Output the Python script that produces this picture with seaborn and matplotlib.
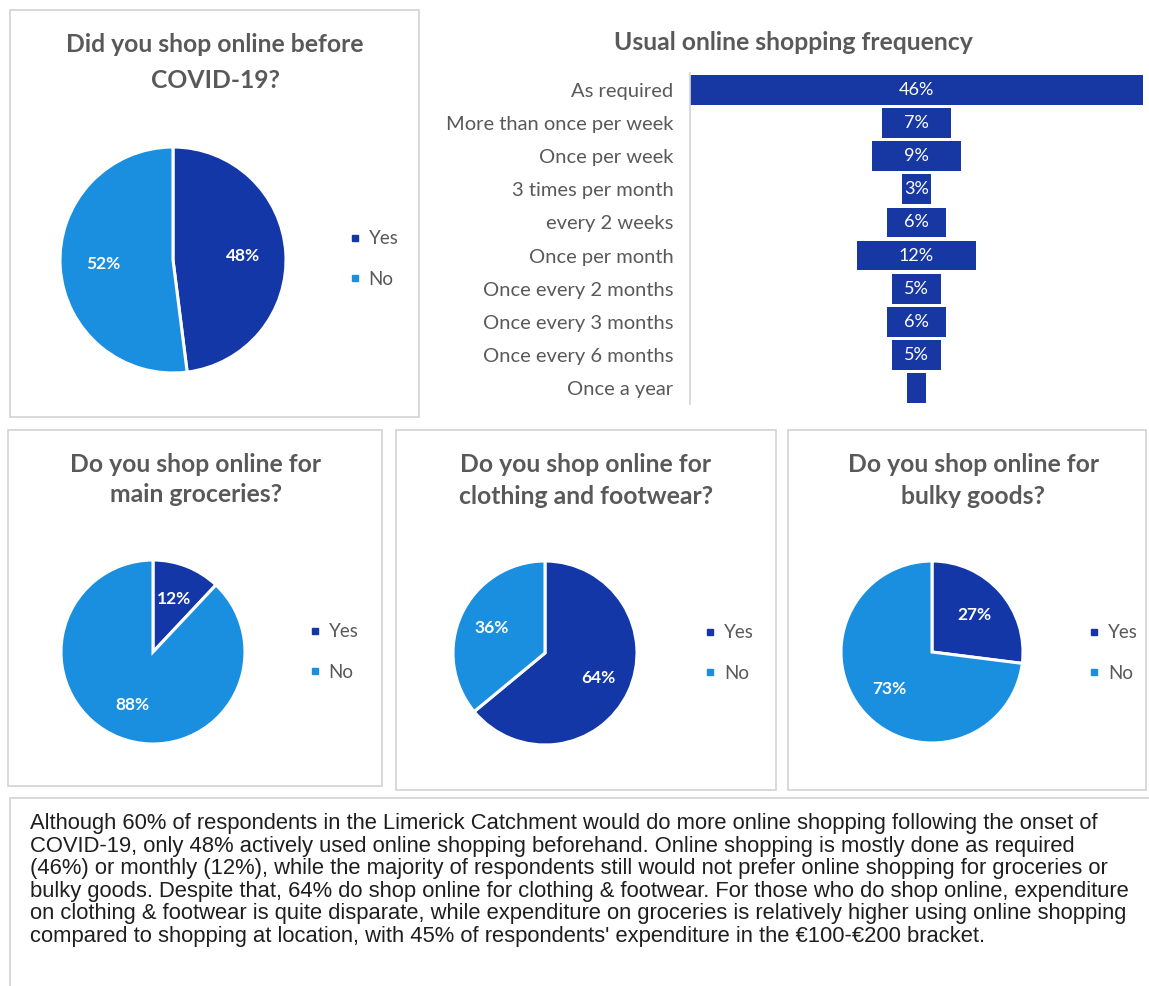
import numpy as np
import pandas as pd
import matplotlib
matplotlib.use("Agg")
import matplotlib.pyplot as plt
import seaborn as sns
from matplotlib.patches import Rectangle
from matplotlib.lines import Line2D

sns.set_theme(style="white")
plt.rcParams['font.family'] = ['Lato', 'DejaVu Sans']

# ---------------- data ----------------
pie_labels = ["Yes", "No"]
before_covid = [48, 52]
groceries = [12, 88]
clothing = [64, 36]
bulky = [27, 73]

freq_categories = ["As required", "More than once per week", "Once per week",
                   "3 times per month", "every 2 weeks", "Once per month",
                   "Once every 2 months", "Once every 3 months",
                   "Once every 6 months", "Once a year"]
freq_values = [46, 7, 9, 3, 6, 12, 5, 6, 5, 2]
freq_value_labels = ["46%", "7%", "9%", "3%", "6%", "12%", "5%", "6%", "5%", ""]

paragraph_lines = [
    "Although 60% of respondents in the Limerick Catchment would do more online shopping following the onset of",
    "COVID-19, only 48% actively used online shopping beforehand. Online shopping is mostly done as required",
    "(46%) or monthly (12%), while the majority of respondents still would not prefer online shopping for groceries or",
    "bulky goods. Despite that, 64% do shop online for clothing & footwear. For those who do shop online, expenditure",
    "on clothing & footwear is quite disparate, while expenditure on groceries is relatively higher using online shopping",
    "compared to shopping at location, with 45% of respondents' expenditure in the \u20ac100-\u20ac200 bracket.",
]

# ---------------- style ----------------
W, H = 1149, 986
DARK = "#1437a8"
LIGHT = "#1a8fe0"
BAR = "#1738a3"
GRAY = "#595959"
BORDER = "#d6d6d6"
TITLE_SIZE = 17.8

fig = plt.figure(figsize=(W / 100, H / 100), dpi=100)
fig.patch.set_facecolor("white")


def px_axes(left, top, width, height):
    return fig.add_axes([left / W, 1 - (top + height) / H, width / W, height / H])


def box(l, t, r, b):
    fig.add_artist(Rectangle((l / W, 1 - b / H), (r - l) / W, (b - t) / H,
                             transform=fig.transFigure, fill=False,
                             edgecolor=BORDER, lw=1.3))


def ftext(x, y, s, **kw):
    fig.text(x / W, 1 - y / H, s, **kw)


def draw_pie(values, cx, cy, r, title_lines, tx, tys, lx, lcy, pctdist):
    pad = 1.03
    ax = px_axes(cx - r * pad, cy - r * pad, 2 * r * pad, 2 * r * pad)
    ax.pie(values, colors=[DARK, LIGHT], startangle=90, counterclock=False,
           autopct=lambda p: f"{p:.0f}%", pctdistance=pctdist,
           wedgeprops=dict(edgecolor="white", linewidth=2.2),
           textprops=dict(color="white", fontsize=12.5, fontweight="bold"))
    ax.set_xlim(-pad, pad)
    ax.set_ylim(-pad, pad)
    ax.set_aspect("equal")
    ax.axis("off")
    for line, ty in zip(title_lines, tys):
        ftext(tx, ty, line, ha="center", va="center", fontsize=TITLE_SIZE,
              fontweight="bold", color=GRAY)
    handles = [Line2D([], [], marker="s", ls="", color=c, markersize=5)
               for c in (DARK, LIGHT)]
    fig.legend(handles, pie_labels, loc="center left",
               bbox_to_anchor=(lx / W, 1 - lcy / H), frameon=False,
               fontsize=13.5, labelcolor=GRAY, handlelength=0.5,
               handletextpad=0.5, labelspacing=1.25, borderpad=0,
               borderaxespad=0)


# panel borders
box(10, 10, 419, 417)
box(8, 430, 382, 786)
box(396, 430, 776, 790)
box(788, 430, 1146, 790)
box(10, 798, 1160, 1000)

# pies
draw_pie(before_covid, 173, 260, 113, ["Did you shop online before", "COVID-19?"],
         215, [45, 80], 350, 259, 0.62)
draw_pie(groceries, 153, 652, 92, ["Do you shop online for", "main groceries?"],
         196, [465, 495], 310, 652, 0.62)
draw_pie(clothing, 545, 653, 92, ["Do you shop online for", "clothing and footwear?"],
         586, [465, 496], 705, 653, 0.64)
draw_pie(bulky, 932, 652, 91, ["Do you shop online for", "bulky goods?"],
         973, [465, 496], 1089, 653, 0.62)

# funnel bar chart
freq_df = pd.DataFrame({"category": freq_categories, "value": freq_values})
freq_df["right"] = freq_df["value"] / 2
freq_df["left"] = -freq_df["value"] / 2
axb = px_axes(690, 73.5, 453, 331)
for col in ("right", "left"):
    sns.barplot(data=freq_df, x=col, y="category", order=freq_categories,
                orient="h", color=BAR, saturation=1, width=0.9,
                errorbar=None, linewidth=0, ax=axb)
axb.set_xlim(-max(freq_values) / 2, max(freq_values) / 2)
axb.set(xlabel="", ylabel="", xticks=[])
axb.tick_params(axis="y", length=0, pad=12, labelsize=14.5, labelcolor=GRAY)
for s in ("top", "right", "bottom"):
    axb.spines[s].set_visible(False)
axb.spines["left"].set_color(BORDER)
for i, lab in enumerate(freq_value_labels):
    axb.text(0, i, lab, ha="center", va="center", color="white", fontsize=13)
ftext(793, 43, "Usual online shopping frequency", ha="center", va="center",
      fontsize=TITLE_SIZE, fontweight="bold", color=GRAY)

# paragraph
ftext(30, 813, "\n".join(paragraph_lines), ha="left", va="top",
      family="Liberation Sans", fontsize=15.8, linespacing=1.1, color="#1e1e1e")

fig.savefig("out.png", dpi=100, facecolor="white")
